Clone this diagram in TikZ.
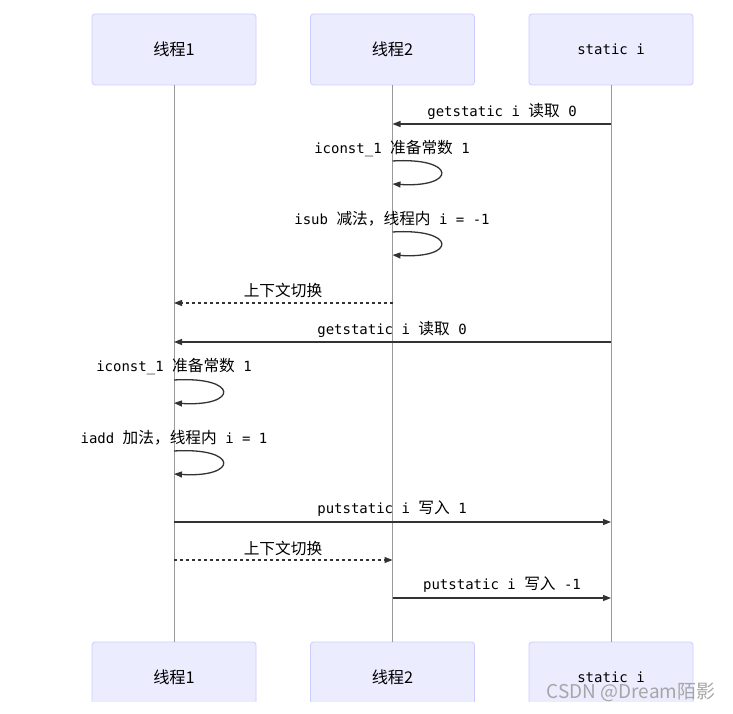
\documentclass[tikz,border=0pt]{standalone}
\usepackage{fontspec}
\setmainfont{DejaVu Sans Mono}
\newfontfamily\cjk[Scale=1.12]{Noto Sans CJK SC}
\newfontfamily\wmfont{Noto Sans CJK SC}
\usetikzlibrary{arrows.meta}
\definecolor{actfill}{HTML}{ECECFF}
\definecolor{actdraw}{HTML}{CCCCFF}
\definecolor{msgc}{HTML}{333333}
\definecolor{lifec}{HTML}{999999}
\tikzset{
  actor/.style={draw=actdraw, fill=actfill, line width=0.8pt, rounded corners=3pt,
    minimum width=164pt, minimum height=71pt, inner sep=0pt, font=\fontsize{14}{16}\selectfont},
  life/.style={draw=lifec, line width=0.8pt},
  msg/.style={draw=msgc, line width=1.3pt, -{Triangle[length=8pt,width=6pt]}},
  dmsg/.style={msg, dash pattern=on 3pt off 3pt},
  lbl/.style={inner sep=0pt, font=\fontsize{14}{16}\selectfont, text=black},
}
\begin{document}
\begin{tikzpicture}[x=1pt,y=-1pt]
\useasboundingbox (0,0) rectangle (733,714);
% actors
\node[actor] (t1) at (174,49.5) {\cjk\fontsize{14.5}{16}\selectfont 线程1};
\node[actor] (t2) at (392.5,49.5) {\cjk\fontsize{14.5}{16}\selectfont 线程2};
\node[actor] (t3) at (611,49.5) {static i};
\begin{scope}
\clip (0,0) rectangle (733,701);
\node[actor] (b1) at (174,677.5) {\cjk\fontsize{14.5}{16}\selectfont 线程1};
\node[actor] (b2) at (392.5,677.5) {\cjk\fontsize{14.5}{16}\selectfont 线程2};
\node[actor] (b3) at (611,677.5) {static i};
\end{scope}
% lifelines
\draw[life] (t1.south) -- (b1.north);
\draw[life] (t2.south) -- (b2.north);
\draw[life] (t3.south) -- (b3.north);
% 1
\draw[msg] (t3 |- 0,124) -- (t2 |- 0,124);
\node[lbl] (m1) at (502,111) {getstatic i {\cjk 读取} 0};
% 2
\node[lbl] (m2) at (392,149) {iconst\_1 {\cjk 准备常数} 1};
\draw[msg] (t2 |- 0,161) .. controls (457,157) and (457,188) .. (t2 |- 0,184);
% 3
\node[lbl] (m3) at (392,219) {isub {\cjk 减法，线程内} i = -1};
\draw[msg] (t2 |- 0,232) .. controls (457,228) and (457,259) .. (t2 |- 0,255);
% 4
\draw[dmsg] (t2 |- 0,303) -- (t1 |- 0,303);
\node[lbl] (m4) at (283,290) {\cjk 上下文切换};
% 5
\draw[msg] (t3 |- 0,342) -- (t1 |- 0,342);
\node[lbl] (m5) at (392,329) {getstatic i {\cjk 读取} 0};
% 6
\node[lbl] (m6) at (174,367) {iconst\_1 {\cjk 准备常数} 1};
\draw[msg] (t1 |- 0,380) .. controls (239,376) and (239,407) .. (t1 |- 0,403);
% 7
\node[lbl] (m7) at (174,438) {iadd {\cjk 加法，线程内} i = 1};
\draw[msg] (t1 |- 0,451) .. controls (239,447) and (239,478) .. (t1 |- 0,474);
% 8
\draw[msg] (t1 |- 0,522) -- (t3 |- 0,522);
\node[lbl] (m8) at (392,509) {putstatic i {\cjk 写入} 1};
% 9
\draw[dmsg] (t1 |- 0,560) -- (t2 |- 0,560);
\node[lbl] (m9) at (283,548) {\cjk 上下文切换};
% 10
\draw[msg] (t2 |- 0,598) -- (t3 |- 0,598);
\node[lbl] (m10) at (502,585) {putstatic i {\cjk 写入} -1};
% watermark
\node[inner sep=0pt, text=black!35, font=\wmfont\fontsize{19}{21}\selectfont] (wm) at (631,692) {CSDN @Dream陌影};
\end{tikzpicture}
\end{document}
